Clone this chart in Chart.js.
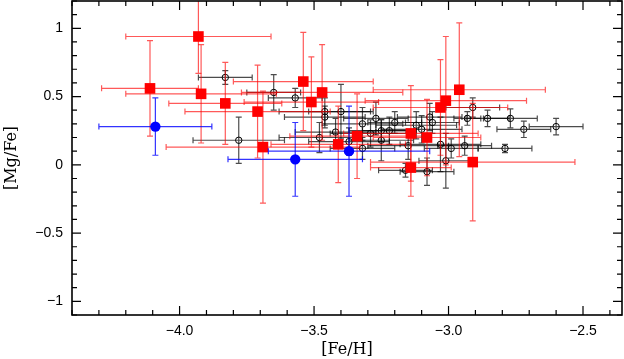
<!DOCTYPE html>
<html>
<head>
<meta charset="utf-8">
<script src="https://cdn.jsdelivr.net/npm/chart.js@4.4.0/dist/chart.umd.min.js"></script>
<style>
html,body{margin:0;padding:0;background:#fff;}
</style>
</head>
<body>
<canvas id="myChart" width="624" height="359"></canvas>
<script>
// red squares
var redFeH     = [-4.11, -3.93, -3.92, -3.83, -3.71, -3.69, -3.54, -3.51, -3.47, -3.41, -3.34, -3.14, -3.14, -3.08, -3.03, -3.01, -2.96, -2.91];
var redMgFe    = [0.56, 0.94, 0.52, 0.45, 0.39, 0.13, 0.61, 0.46, 0.53, 0.15, 0.21, 0.23, -0.02, 0.20, 0.42, 0.47, 0.55, 0.02];
var redErrFeH  = [0.18, 0.27, 0.28, 0.21, 0.27, 0.36, 0.26, 0.25, 0.30, 0.25, 0.25, 0.25, 0.15, 0.20, 0.25, 0.30, 0.32, 0.38];
var redErrMgFe = [0.35, 0.27, 0.36, 0.30, 0.34, 0.41, 0.36, 0.33, 0.35, 0.28, 0.31, 0.35, 0.21, 0.28, 0.35, 0.47, 0.49, 0.43];

// blue circles
var blueFeH     = [-4.09, -3.57, -3.37];
var blueMgFe    = [0.28, 0.04, 0.10];
var blueErrFeH  = [0.21, 0.25, 0.30];
var blueErrMgFe = [0.21, 0.27, 0.33];

// black open circles
var blackFeH = [-3.83, -3.78, -3.65, -3.57, -3.48, -3.46, -3.46, -3.42, -3.40, -3.37, -3.32, -3.32,
                -3.29, -3.27, -3.25, -3.25, -3.22, -3.20, -3.15, -3.16, -3.12, -3.10, -3.07, -3.06,
                -3.08, -3.03, -3.01, -2.99, -2.94, -2.93, -2.91, -2.855, -2.79, -2.77, -2.72, -2.60];
var blackMgFe = [0.64, 0.18, 0.53, 0.49, 0.20, 0.39, 0.35, 0.24, 0.39, 0.17, 0.30, 0.12,
                 0.23, 0.34, 0.25, 0.18, 0.25, 0.31, 0.14, -0.04, 0.29, 0.26, 0.35, 0.31,
                 -0.05, 0.15, 0.03, 0.12, 0.14, 0.34, 0.42, 0.34, 0.12, 0.34, 0.26, 0.28];
var blackErrFeH = [0.10, 0.17, 0.10, 0.10, 0.15, 0.17, 0.15, 0.15, 0.12, 0.15, 0.15, 0.12,
                   0.15, 0.12, 0.12, 0.12, 0.10, 0.10, 0.15, 0.10, 0.15, 0.15, 0.12, 0.10,
                   0.10, 0.15, 0.10, 0.10, 0.10, 0.05, 0.10, 0.08, 0.10, 0.10, 0.10, 0.10];
var blackErrMgFe = [0.05, 0.17, 0.13, 0.07, 0.11, 0.10, 0.08, 0.10, 0.20, 0.10, 0.12, 0.08,
                    0.10, 0.12, 0.08, 0.15, 0.10, 0.08, 0.10, 0.05, 0.10, 0.10, 0.10, 0.08,
                    0.10, 0.20, 0.20, 0.07, 0.07, 0.05, 0.07, 0.06, 0.03, 0.07, 0.06, 0.06];

function pts(xs, ys){
  return xs.map(function(x, i){ return {x: x, y: ys[i]}; });
}

function isStep(v){
  return Math.abs(v*10 - Math.round(v*10)) < 1e-6;
}

// error bars drawn just before each dataset's points
var errorBars = {
  id: 'errorBars',
  beforeDatasetDraw: function(chart, args){
    var ds = chart.data.datasets[args.index];
    if (!ds.errX) return;
    var ctx = chart.ctx, sx = chart.scales.x, sy = chart.scales.y, a = chart.chartArea;
    ctx.save();
    ctx.beginPath();
    ctx.rect(a.left, a.top, a.right - a.left, a.bottom - a.top);
    ctx.clip();
    ctx.strokeStyle = ds.errColor;
    ctx.lineWidth = 1.2;
    ds.data.forEach(function(p, i){
      var px = sx.getPixelForValue(p.x), py = sy.getPixelForValue(p.y);
      var x1 = sx.getPixelForValue(p.x - ds.errX[i]), x2 = sx.getPixelForValue(p.x + ds.errX[i]);
      var y1 = sy.getPixelForValue(p.y - ds.errY[i]), y2 = sy.getPixelForValue(p.y + ds.errY[i]);
      ctx.beginPath();
      ctx.moveTo(x1, py); ctx.lineTo(x2, py);
      ctx.moveTo(x1, py - 3); ctx.lineTo(x1, py + 3);
      ctx.moveTo(x2, py - 3); ctx.lineTo(x2, py + 3);
      ctx.moveTo(px, y1); ctx.lineTo(px, y2);
      ctx.moveTo(px - 3, y1); ctx.lineTo(px + 3, y1);
      ctx.moveTo(px - 3, y2); ctx.lineTo(px + 3, y2);
      ctx.stroke();
    });
    ctx.restore();
  }
};

// box frame with inward major/minor ticks on all four sides
var frameTicks = {
  id: 'frameTicks',
  afterDraw: function(chart){
    var ctx = chart.ctx, a = chart.chartArea, sx = chart.scales.x, sy = chart.scales.y;
    ctx.save();
    ctx.strokeStyle = '#000';
    ctx.lineWidth = 1.2;
    ctx.beginPath();
    sx.ticks.forEach(function(t){
      if (!isStep(t.value)) return;
      var major = Math.round(t.value*10) % 5 === 0;
      var len = major ? 9 : 5;
      var x = sx.getPixelForValue(t.value);
      ctx.moveTo(x, a.bottom); ctx.lineTo(x, a.bottom - len);
      ctx.moveTo(x, a.top); ctx.lineTo(x, a.top + len);
    });
    sy.ticks.forEach(function(t){
      if (!isStep(t.value)) return;
      var major = Math.round(t.value*10) % 5 === 0;
      var len = major ? 9 : 5;
      var y = sy.getPixelForValue(t.value);
      ctx.moveTo(a.left, y); ctx.lineTo(a.left + len, y);
      ctx.moveTo(a.right, y); ctx.lineTo(a.right - len, y);
    });
    ctx.stroke();
    ctx.lineWidth = 1.6;
    ctx.strokeRect(a.left, a.top, a.right - a.left, a.bottom - a.top);
    ctx.restore();
  }
};

var tickFont = {family: 'Liberation Sans', size: 14};
var titleFont = {family: 'DejaVu Serif', size: 16};

var ctx = document.getElementById('myChart').getContext('2d');
var chart = new Chart(ctx, {
  type: 'scatter',
  data: {
    datasets: [{
      label: 'blue',
      data: pts(blueFeH, blueMgFe),
      errX: blueErrFeH, errY: blueErrMgFe,
      errColor: 'rgba(0,0,255,0.8)',
      pointStyle: 'circle',
      pointRadius: 5.2,
      backgroundColor: '#0000ff',
      borderColor: '#0000ff',
      borderWidth: 0,
      order: 1
    }, {
      label: 'red',
      data: pts(redFeH, redMgFe),
      errX: redErrFeH, errY: redErrMgFe,
      errColor: 'rgba(255,0,0,0.65)',
      pointStyle: 'rect',
      pointRadius: 7.5,
      backgroundColor: '#ff0000',
      borderColor: '#ff0000',
      borderWidth: 0,
      order: 2
    }, {
      label: 'black',
      data: pts(blackFeH, blackMgFe),
      errX: blackErrFeH, errY: blackErrMgFe,
      errColor: 'rgba(0,0,0,0.7)',
      pointStyle: 'circle',
      pointRadius: 3.2,
      backgroundColor: 'rgba(0,0,0,0)',
      borderColor: '#000',
      borderWidth: 1,
      order: 3
    }]
  },
  options: {
    responsive: false,
    animation: false,
    events: [],
    layout: {autoPadding: false, padding: {top: 1, right: 2, left: 0, bottom: 0}},
    plugins: {legend: {display: false}, tooltip: {enabled: false}},
    scales: {
      x: {
        type: 'linear',
        position: 'bottom',
        min: -4.4,
        max: -2.355,
        grid: {display: false, drawTicks: false},
        border: {display: false},
        ticks: {
          stepSize: 0.1,
          autoSkip: false,
          maxRotation: 0,
          includeBounds: false,
          padding: 8,
          color: '#000',
          font: tickFont,
          callback: function(v){
            var k = Math.round(v*10);
            if (k % 5 !== 0) return '';
            return (k < 0 ? '\u2212' : '') + Math.abs(k/10).toFixed(1);
          }
        },
        title: {display: true, text: '[Fe/H]', color: '#000', font: titleFont, padding: 0},
        afterFit: function(s){ s.height = 44; s.paddingLeft = 0; s.paddingRight = 0; }
      },
      y: {
        type: 'linear',
        min: -1.1,
        max: 1.2,
        grid: {display: false, drawTicks: false},
        border: {display: false},
        ticks: {
          stepSize: 0.1,
          autoSkip: false,
          includeBounds: false,
          padding: 9,
          color: '#000',
          font: tickFont,
          callback: function(v){
            var k = Math.round(v*10);
            if (k % 5 !== 0) return '';
            return (k < 0 ? '\u2212' : '') + String(Math.abs(k/10));
          }
        },
        title: {display: true, text: '[Mg/Fe]', color: '#000', font: titleFont, padding: {top: 2, bottom: 0}},
        afterFit: function(s){ s.width = 72; s.paddingTop = 0; s.paddingBottom = 0; }
      }
    }
  },
  plugins: [errorBars, frameTicks]
});
</script>
</body>
</html>
